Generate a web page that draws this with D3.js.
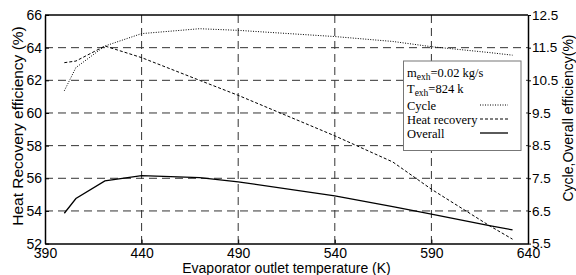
<!DOCTYPE html>
<html>
<head>
<meta charset="utf-8">
<script src="https://cdn.jsdelivr.net/npm/d3@7"></script>
<style>
  body { margin: 0; background: #fff; }
  svg { display: block; }
</style>
</head>
<body>
<div id="chart"></div>
<script>
// 数据：蒸发器出口温度 (K)
const temps = [400, 406, 421, 440, 470, 490, 540, 570, 590, 620, 632]
// 循环效率 (右轴, %)
const cycleEff = [10.18, 10.89, 11.55, 11.93, 12.08, 12.03, 11.84, 11.69, 11.53, 11.35, 11.27]
// 热回收效率 (左轴, %)
const heatRecovery = [63.08, 63.18, 64.1, 63.39, 62.0, 61.08, 58.6, 57.0, 55.33, 53.1, 52.27]
// 总效率 (右轴, %)
const overallEff = [6.43, 6.88, 7.42, 7.58, 7.52, 7.39, 6.96, 6.63, 6.4, 6.05, 5.92]

const xTicks = [390, 440, 490, 540, 590, 640]
const leftTicks = [52, 54, 56, 58, 60, 62, 64, 66]
const rightTicks = [5.5, 6.5, 7.5, 8.5, 9.5, 10.5, 11.5, 12.5]

const W = 576, H = 275
const mLeft = 45, mRight = 528, mTop = 15, mBottom = 243.6

const svg = d3.select('#chart').append('svg')
  .attr('width', W)
  .attr('height', H)
  .style('font-family', '"Liberation Sans", Arial, sans-serif')

const x = d3.scaleLinear().domain([390, 640]).range([mLeft, mRight])
const yL = d3.scaleLinear().domain([52, 66]).range([mBottom, mTop])
const yR = d3.scaleLinear().domain([5.5, 12.5]).range([mBottom, mTop])

// 网格线
const grid = svg.append('g')
  .attr('stroke', '#333')
  .attr('stroke-width', 1)
  .attr('stroke-dasharray', '8,5')

grid.selectAll('line.v')
  .data(xTicks.slice(1, -1))
  .enter().append('line')
  .attr('x1', d => x(d)).attr('x2', d => x(d))
  .attr('y1', mTop).attr('y2', mBottom)

grid.selectAll('line.h')
  .data(leftTicks.slice(1, -1))
  .enter().append('line')
  .attr('x1', mLeft).attr('x2', mRight)
  .attr('y1', d => yL(d)).attr('y2', d => yL(d))

// 坐标轴
const xAxis = svg.append('g')
  .attr('transform', `translate(0,${mBottom})`)
  .call(d3.axisBottom(x).tickValues(xTicks).tickSizeInner(-4).tickSizeOuter(0).tickPadding(4))
const lAxis = svg.append('g')
  .attr('transform', `translate(${mLeft},0)`)
  .call(d3.axisLeft(yL).tickValues(leftTicks).tickSizeInner(-4).tickSizeOuter(0).tickPadding(3))
const rAxis = svg.append('g')
  .attr('transform', `translate(${mRight},0)`)
  .call(d3.axisRight(yR).tickValues(rightTicks).tickFormat(d3.format('.1f')).tickSizeInner(3).tickSizeOuter(0).tickPadding(1))

;[xAxis, lAxis].forEach(a => a.selectAll('text').style('font-size', '14px'))
rAxis.selectAll('text').style('font-size', '13.5px')
;[xAxis, lAxis, rAxis].forEach(a => {
  a.selectAll('text').attr('fill', '#000')
  a.selectAll('line').attr('stroke', '#000')
  a.select('.domain').attr('stroke', '#000').attr('stroke-width', 1.5)
})

// 顶部边框
svg.append('line')
  .attr('x1', mLeft).attr('x2', mRight)
  .attr('y1', mTop).attr('y2', mTop)
  .attr('stroke', '#000').attr('stroke-width', 1.5)

// 曲线
const lineR = d3.line().x((d, i) => x(temps[i])).y(d => yR(d))
const lineL = d3.line().x((d, i) => x(temps[i])).y(d => yL(d))

svg.append('path')
  .attr('d', lineR(cycleEff))
  .attr('fill', 'none').attr('stroke', '#000').attr('stroke-width', 1)
  .attr('stroke-dasharray', '1,1.5')

svg.append('path')
  .attr('d', lineL(heatRecovery))
  .attr('fill', 'none').attr('stroke', '#000').attr('stroke-width', 1)
  .attr('stroke-dasharray', '3,2')

svg.append('path')
  .attr('d', lineR(overallEff))
  .attr('fill', 'none').attr('stroke', '#000').attr('stroke-width', 1.3)

// 轴标题
svg.append('text')
  .attr('x', (mLeft + mRight) / 2).attr('y', 272.5)
  .attr('text-anchor', 'middle')
  .style('font-size', '14px')
  .text('Evaporator outlet temperature (K)')

svg.append('text')
  .attr('transform', `translate(23,126) rotate(-90)`)
  .attr('text-anchor', 'middle')
  .style('font-size', '15.5px')
  .text('Heat Recovery efficiency (%)')

svg.append('text')
  .attr('transform', `translate(572.5,118) rotate(-90)`)
  .attr('text-anchor', 'middle')
  .style('font-size', '14px')
  .text('Cycle,Overall efficiency(%)')

// 图例
const lg = svg.append('g')
  .style('font-family', '"Liberation Serif", "Times New Roman", serif')
  .style('font-size', '12.5px')

lg.append('rect')
  .attr('x', 403.5).attr('y', 61)
  .attr('width', 117.5).attr('height', 89.5)
  .attr('fill', '#fff').attr('stroke', '#777').attr('stroke-width', 1)

const t1 = lg.append('text').attr('x', 407).attr('y', 77)
t1.append('tspan').text('m')
t1.append('tspan').attr('dy', 3).style('font-size', '9.5px').text('exh')
t1.append('tspan').attr('dy', -3).text('=0.02 kg/s')

const t2 = lg.append('text').attr('x', 407).attr('y', 93)
t2.append('tspan').text('T')
t2.append('tspan').attr('dy', 3).style('font-size', '9.5px').text('exh')
t2.append('tspan').attr('dy', -3).text('=824 k')

const legendItems = [
  { name: 'Cycle', dash: '1,1.5', w: 1 },
  { name: 'Heat recovery', dash: '3,2', w: 1 },
  { name: 'Overall', dash: null, w: 1.3 }
]
legendItems.forEach((item, i) => {
  const cy = 106 + i * 14
  lg.append('text').attr('x', 407).attr('y', cy + 4).text(item.name)
  lg.append('line')
    .attr('x1', 480).attr('x2', 508)
    .attr('y1', cy - 1).attr('y2', cy - 1)
    .attr('stroke', '#000').attr('stroke-width', item.w)
    .attr('stroke-dasharray', item.dash)
})
</script>
</body>
</html>
